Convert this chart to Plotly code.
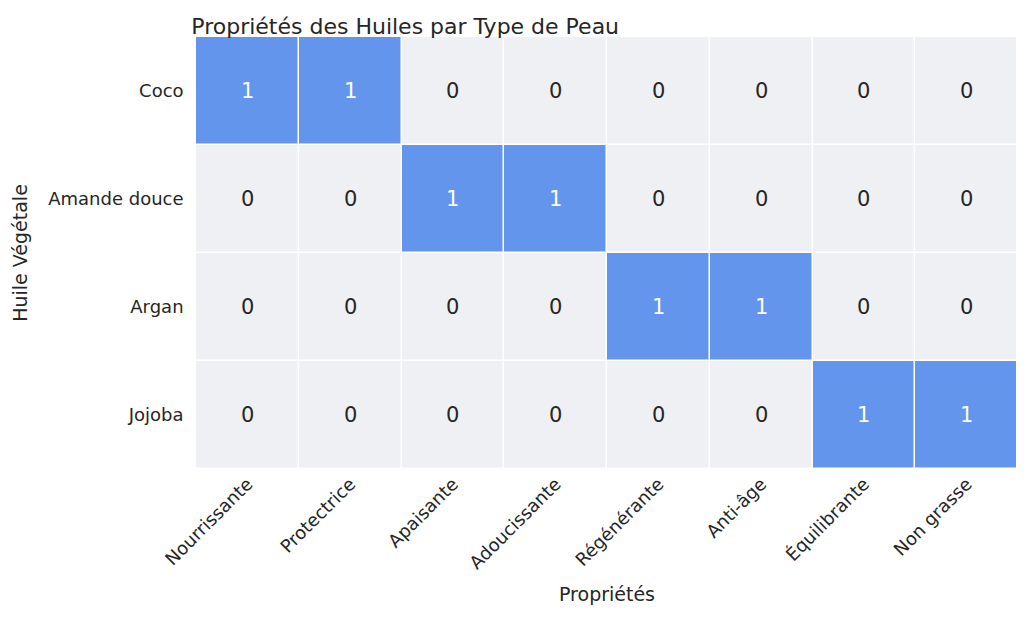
import plotly.graph_objects as go

oils = ["Coco", "Amande douce", "Argan", "Jojoba"]
props = ["Nourrissante", "Protectrice", "Apaisante", "Adoucissante", "Régénérante", "Anti-âge", "Équilibrante", "Non grasse"]
values = [
    [1, 1, 0, 0, 0, 0, 0, 0],
    [0, 0, 1, 1, 0, 0, 0, 0],
    [0, 0, 0, 0, 1, 1, 0, 0],
    [0, 0, 0, 0, 0, 0, 1, 1],
]

fig = go.Figure(go.Heatmap(
    z=values, x=props, y=oils,
    colorscale=[[0, "#eff0f3"], [1, "#6495ed"]],
    showscale=False, xgap=1.5, ygap=1.5, zmin=0, zmax=1,
))
for i, o in enumerate(oils):
    for j, p in enumerate(props):
        v = values[i][j]
        fig.add_annotation(x=p, y=o, text=str(v), showarrow=False,
                           font=dict(size=21, color="white" if v else "#262626"))

fig.update_layout(
    width=1024, height=621,
    margin=dict(l=183, r=14, t=29, b=160),
    paper_bgcolor="white", plot_bgcolor="white",
    font=dict(family="DejaVu Sans", color="#262626"),
    title=dict(text="Propriétés des Huiles par Type de Peau", x=0.179, xanchor="left",
               y=0.97, yanchor="middle", font=dict(size=22)),
)
fig.update_xaxes(title=dict(text="Propriétés", font=dict(size=19)), tickangle=-45,
                 tickfont=dict(size=18), showgrid=False, zeroline=False, ticks="")
fig.update_yaxes(title=dict(text="Huile Végétale", font=dict(size=19)), autorange="reversed",
                 tickfont=dict(size=18), showgrid=False, zeroline=False, ticks="", ticksuffix="  ")
fig.write_html("out.html")
